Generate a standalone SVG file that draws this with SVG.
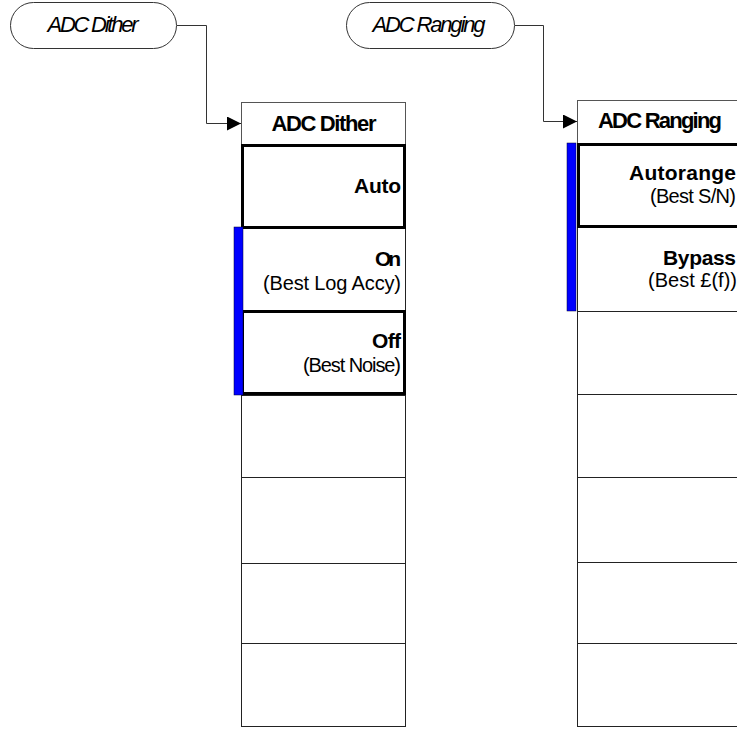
<svg xmlns="http://www.w3.org/2000/svg" width="737" height="729" viewBox="0 0 737 729">
<style>
text{font-family:"Liberation Sans",Arial,sans-serif;fill:#000}
.pill{fill:#fff;stroke:#333;stroke-width:1}
.pt{font-size:22px;font-style:italic;text-anchor:middle}
.title{fill:#fff;stroke:#555;stroke-width:1}
.tt{font-size:22px;font-weight:bold;text-anchor:middle}
.thin{fill:#fff;stroke:#222;stroke-width:1}
.thick{fill:#fff;stroke:#000;stroke-width:3}
.bar{fill:#0000ff;stroke:#000033;stroke-width:0.5}
.lb{font-size:21px;font-weight:bold;text-anchor:end}
.sb{font-size:20px;text-anchor:end}
.conn{fill:none;stroke:#333;stroke-width:1}
</style>
<defs>
<marker id="arr" markerUnits="userSpaceOnUse" markerWidth="15" markerHeight="15" refX="14" refY="7" orient="auto">
<path d="M0,0 L14,7 L0,14 z" fill="#000"/>
</marker>
</defs>

<g id="pill-dither">
<rect class="pill" x="10.5" y="2.5" width="166" height="46" rx="23" ry="23"/>
<text class="pt" x="93" y="32" textLength="91" lengthAdjust="spacing">ADC Dither</text>
</g>
<g id="pill-ranging">
<rect class="pill" x="346.5" y="2.5" width="168" height="46" rx="23" ry="23"/>
<text class="pt" x="429" y="32" textLength="113" lengthAdjust="spacing">ADC Ranging</text>
</g>

<g id="connectors">
<path class="conn" d="M177,25.5 H206.5 V123.5 H241" marker-end="url(#arr)"/>
<path class="conn" d="M515,25.5 H543.5 V121.5 H577" marker-end="url(#arr)"/>
</g>

<g id="menu-dither">
<rect class="title" x="241.5" y="102.5" width="164" height="42"/>
<text class="tt" x="324" y="131" textLength="105" lengthAdjust="spacing">ADC Dither</text>
<rect class="thin" x="241.5" y="395.5" width="164" height="82"/>
<rect class="thin" x="241.5" y="477.5" width="164" height="86"/>
<rect class="thin" x="241.5" y="563.5" width="164" height="80"/>
<rect class="thin" x="241.5" y="643.5" width="164" height="83"/>
<rect class="thin" x="241.5" y="228.5" width="164" height="83"/>
<rect class="thick" x="242.5" y="145.5" width="162" height="82"/>
<rect class="thick" x="242.5" y="311.5" width="162" height="82"/>
<rect class="bar" x="234" y="227" width="9" height="168"/>
</g>
<g id="btn-auto"><text class="lb" x="401" y="193" textLength="47" lengthAdjust="spacing">Auto</text></g>
<g id="btn-on">
<text class="lb" x="401" y="266" textLength="26" lengthAdjust="spacing">On</text>
<text class="sb" x="401" y="290" textLength="138" lengthAdjust="spacing">(Best Log Accy)</text>
</g>
<g id="btn-off">
<text class="lb" x="401" y="348" textLength="29" lengthAdjust="spacing">Off</text>
<text class="sb" x="401" y="372" textLength="98" lengthAdjust="spacing">(Best Noise)</text>
</g>

<g id="menu-ranging">
<rect class="title" x="577.5" y="100.5" width="164" height="43"/>
<text class="tt" x="660" y="128" textLength="124" lengthAdjust="spacing">ADC Ranging</text>
<rect class="thin" x="577.5" y="311.5" width="164" height="83"/>
<rect class="thin" x="577.5" y="394.5" width="164" height="83"/>
<rect class="thin" x="577.5" y="477.5" width="164" height="85"/>
<rect class="thin" x="577.5" y="562.5" width="164" height="81"/>
<rect class="thin" x="577.5" y="643.5" width="164" height="83"/>
<rect class="thin" x="577.5" y="227.5" width="164" height="84"/>
<rect class="thick" x="578.5" y="144.5" width="162" height="82"/>
<rect class="bar" x="567" y="143" width="9" height="168"/>
</g>
<g id="btn-autorange">
<text class="lb" x="736" y="180" textLength="107" lengthAdjust="spacing">Autorange</text>
<text class="sb" x="736" y="203" textLength="86" lengthAdjust="spacing">(Best S/N)</text>
</g>
<g id="btn-bypass">
<text class="lb" x="736" y="265" textLength="73" lengthAdjust="spacing">Bypass</text>
<text class="sb" x="737" y="287" textLength="89" lengthAdjust="spacing">(Best £(f))</text>
</g>
</svg>
